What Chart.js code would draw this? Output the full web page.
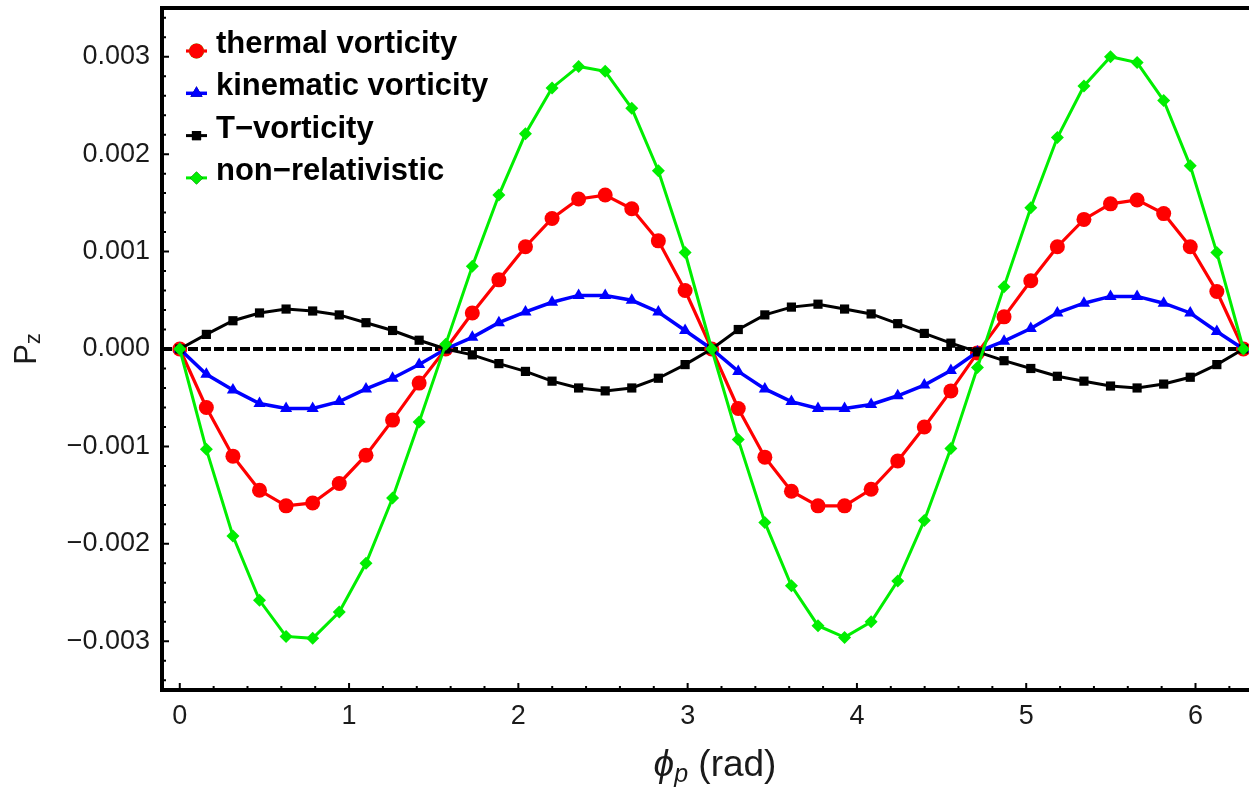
<!DOCTYPE html>
<html><head><meta charset="utf-8">
<script src="https://cdn.jsdelivr.net/npm/chart.js@4/dist/chart.umd.min.js"></script>
<style>html,body{margin:0;padding:0;background:#fff;overflow:hidden}#wrap{width:1249px;height:787px;position:relative}</style>
</head><body><div id="wrap"><canvas id="c" width="1249" height="787"></canvas></div>
<script>
// phi_p values (rad)
const phiP = [0, 0.157, 0.314, 0.471, 0.628, 0.785, 0.942, 1.100, 1.257, 1.414,
  1.571, 1.728, 1.885, 2.042, 2.199, 2.356, 2.513, 2.670, 2.827, 2.985,
  3.142, 3.299, 3.456, 3.613, 3.770, 3.927, 4.084, 4.241, 4.398, 4.555,
  4.712, 4.869, 5.027, 5.184, 5.341, 5.498, 5.655, 5.812, 5.969, 6.126, 6.283];

const thermal = [0, -0.00060, -0.00110, -0.00145, -0.00161, -0.00158, -0.00138, -0.00109, -0.00073, -0.00035,
  0, 0.00037, 0.00071, 0.00105, 0.00134, 0.00154, 0.00158, 0.00144, 0.00111, 0.00060,
  0, -0.00061, -0.00111, -0.00146, -0.00161, -0.00161, -0.00144, -0.00115, -0.00080, -0.00043,
  -0.00004, 0.00033, 0.00070, 0.00105, 0.00133, 0.00149, 0.00153, 0.00139, 0.00105, 0.00059, 0];

const kinematic = [0, -0.00026, -0.00042, -0.00056, -0.00061, -0.00061, -0.00054, -0.00041, -0.00030, -0.00016,
  0, 0.00012, 0.00027, 0.00038, 0.00048, 0.00055, 0.00055, 0.00050, 0.00038, 0.00019,
  0, -0.00023, -0.00041, -0.00054, -0.00061, -0.00061, -0.00057, -0.00048, -0.00037, -0.00022,
  -0.00003, 0.00008, 0.00021, 0.00037, 0.00047, 0.00054, 0.00054, 0.00047, 0.00037, 0.00018, 0];

const tVorticity = [0, 0.00015, 0.00029, 0.00037, 0.00041, 0.00039, 0.00035, 0.00027, 0.00019, 0.00009,
  0, -0.00006, -0.00015, -0.00023, -0.00033, -0.00040, -0.00043, -0.00040, -0.00030, -0.00016,
  0, 0.00020, 0.00035, 0.00043, 0.00046, 0.00041, 0.00036, 0.00026, 0.00016, 0.00006,
  -0.00003, -0.00012, -0.00020, -0.00028, -0.00033, -0.00038, -0.00040, -0.00036, -0.00029, -0.00016, 0];

const nonRel = [0, -0.00103, -0.00192, -0.00258, -0.00295, -0.00297, -0.00270, -0.00220, -0.00153, -0.00075,
  0.00005, 0.00085, 0.00158, 0.00221, 0.00268, 0.00290, 0.00285, 0.00247, 0.00183, 0.00099,
  0, -0.00093, -0.00178, -0.00243, -0.00284, -0.00296, -0.00280, -0.00238, -0.00176, -0.00102,
  -0.00019, 0.00064, 0.00145, 0.00217, 0.00270, 0.00300, 0.00294, 0.00255, 0.00188, 0.00099, 0];

const seriesLabels = ['thermal vorticity', 'kinematic vorticity', 'T\u2212vorticity', 'non\u2212relativistic'];
const xTicks = [0, 1, 2, 3, 4, 5, 6];
const yTicks = [-0.003, -0.002, -0.001, 0, 0.001, 0.002, 0.003];

const pts = arr => arr.map((v, i) => ({x: phiP[i], y: v}));
const FONT = "'Liberation Sans', Arial, sans-serif";
const TXT = '#1a1a1a';

const styles = [
  {color: '#ff0000', style: 'circle', r: 7.5, w: 3.2, order: 4},
  {color: '#0000ff', style: 'triangle', r: 7, w: 3.5, order: 3},
  {color: '#000000', style: 'rect', r: 6.5, w: 3, order: 2},
  {color: '#00ee00', style: 'rectRot', r: 6.5, w: 3, order: 1}
];
const values = [thermal, kinematic, tVorticity, nonRel];

const datasets = values.map((arr, i) => ({
  label: seriesLabels[i],
  data: pts(arr),
  borderColor: styles[i].color,
  backgroundColor: styles[i].color,
  borderWidth: styles[i].w,
  pointStyle: styles[i].style,
  pointRadius: styles[i].r,
  pointBackgroundColor: styles[i].color,
  pointBorderColor: styles[i].color,
  pointBorderWidth: 0,
  tension: 0,
  order: styles[i].order,
  clip: false
}));

const zeroPad = s => { s.paddingTop = 0; s.paddingBottom = 0; s.paddingLeft = 0; s.paddingRight = 0; };

const decor = {
  id: 'decor',
  beforeDatasetsDraw(chart) {
    const {ctx, chartArea: a, scales: {y}} = chart;
    const y0 = y.getPixelForValue(0);
    ctx.save();
    ctx.strokeStyle = '#000';
    ctx.lineWidth = 4;
    ctx.setLineDash([10, 3]);
    ctx.beginPath();
    ctx.moveTo(a.left, y0);
    ctx.lineTo(a.right, y0);
    ctx.stroke();
    ctx.restore();
  },
  afterDraw(chart) {
    const {ctx, chartArea: a, scales: {x, y}} = chart;
    ctx.save();
    // frame
    ctx.strokeStyle = '#000';
    ctx.lineWidth = 4;
    ctx.beginPath();
    ctx.moveTo(a.right + 2, a.top);
    ctx.lineTo(a.left, a.top);
    ctx.lineTo(a.left, a.bottom);
    ctx.lineTo(a.right + 2, a.bottom);
    ctx.stroke();
    // ticks (inward)
    ctx.lineWidth = 2;
    ctx.beginPath();
    for (let i = 0; i <= 31; i++) {
      const v = i * 0.2;
      const px = x.getPixelForValue(v);
      if (px > a.right) break;
      const len = (i % 5 === 0) ? 7 : 4;
      ctx.moveTo(px, a.bottom);
      ctx.lineTo(px, a.bottom - len);
    }
    for (let i = -17; i <= 17; i++) {
      const v = i * 0.0002;
      const py = y.getPixelForValue(v);
      const len = (i % 5 === 0) ? 7 : 4;
      ctx.moveTo(a.left, py);
      ctx.lineTo(a.left + len, py);
    }
    ctx.stroke();

    // legend
    chart.data.datasets.forEach((ds, i) => {
      const base = 53 + 42.3 * i;
      const my = base - 2;
      ctx.strokeStyle = ds.borderColor;
      ctx.lineWidth = ds.borderWidth;
      ctx.setLineDash([]);
      ctx.beginPath();
      ctx.moveTo(186, my);
      ctx.lineTo(207, my);
      ctx.stroke();
      Chart.helpers.drawPoint(ctx, {pointStyle: ds.pointStyle, radius: ds.pointRadius, rotation: 0, borderWidth: 0}, 196.5, my);
      ctx.fillStyle = ds.pointBackgroundColor;
      ctx.fill();
      ctx.fillStyle = '#000';
      ctx.font = "bold 31px " + FONT;
      ctx.textBaseline = 'alphabetic';
      ctx.textAlign = 'left';
      ctx.fillText(ds.label, 216, base);
    });

    // x axis title
    ctx.fillStyle = TXT;
    ctx.textBaseline = 'alphabetic';
    ctx.textAlign = 'left';
    const f1 = "italic 37px " + FONT, f2 = "italic 25px " + FONT, f3 = "37px " + FONT;
    const t1 = '\u03D5', t2 = 'p', t3 = ' (rad)';
    ctx.font = f1; const w1 = ctx.measureText(t1).width;
    ctx.font = f2; const w2 = ctx.measureText(t2).width;
    ctx.font = f3; const w3 = ctx.measureText(t3).width;
    let sx = 715 - (w1 + w2 + w3) / 2;
    const by = 776;
    ctx.font = f1; ctx.fillText(t1, sx, by); sx += w1;
    ctx.font = f2; ctx.fillText(t2, sx, by + 6); sx += w2;
    ctx.font = f3; ctx.fillText(t3, sx, by);

    // y axis title
    ctx.save();
    ctx.translate(36, 349);
    ctx.rotate(-Math.PI / 2);
    ctx.font = "31px " + FONT;
    const wp = ctx.measureText('P').width;
    ctx.font = "22px " + FONT;
    const wz = ctx.measureText('z').width;
    let tx = -(wp + wz) / 2;
    ctx.font = "31px " + FONT;
    ctx.fillText('P', tx, 0);
    ctx.font = "22px " + FONT;
    ctx.fillText('z', tx + wp, 4);
    ctx.restore();
    ctx.restore();
  }
};

new Chart(document.getElementById('c'), {
  type: 'line',
  data: {datasets},
  options: {
    responsive: false,
    animation: false,
    devicePixelRatio: 1,
    layout: {autoPadding: false, padding: {top: 8, right: 0, left: 0, bottom: 0}},
    plugins: {legend: {display: false}, tooltip: {enabled: false}},
    scales: {
      x: {
        type: 'linear', min: -0.105, max: 6.316,
        afterFit: s => { s.height = 97; zeroPad(s); },
        afterBuildTicks: s => { s.ticks = xTicks.map(v => ({value: v})); },
        grid: {display: false, drawTicks: false},
        border: {display: false},
        ticks: {font: {family: FONT, size: 27}, color: TXT, padding: 10, callback: v => String(v), maxRotation: 0, autoSkip: false}
      },
      y: {
        type: 'linear', min: -0.0035, max: 0.0035,
        afterFit: s => { s.width = 162; zeroPad(s); },
        afterBuildTicks: s => { s.ticks = yTicks.map(v => ({value: v})); },
        grid: {display: false, drawTicks: false},
        border: {display: false},
        ticks: {font: {family: FONT, size: 27}, color: TXT, padding: 12,
          callback: v => (v < 0 ? '\u2212' : '') + Math.abs(v).toFixed(3)}
      }
    }
  },
  plugins: [decor]
});
</script>
</body></html>
